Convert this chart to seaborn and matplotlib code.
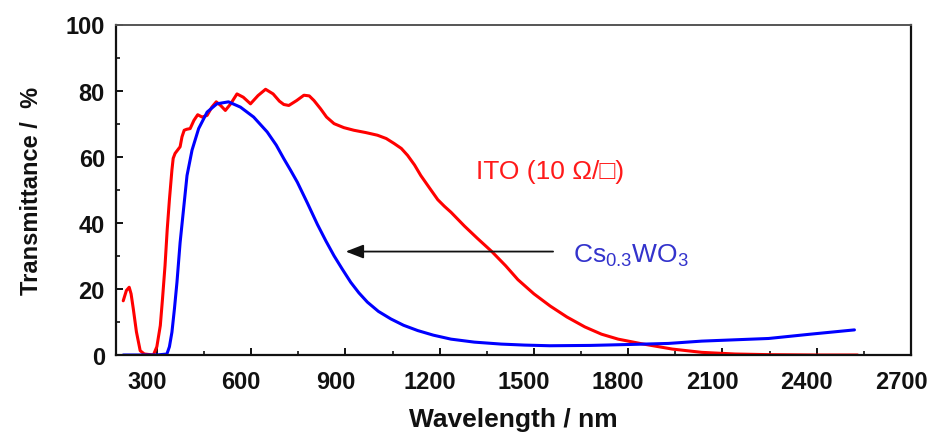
import numpy as np
import pandas as pd
import matplotlib
matplotlib.use("Agg")
import matplotlib.pyplot as plt
from matplotlib.transforms import ScaledTranslation
from matplotlib.ticker import MultipleLocator
import seaborn as sns

# ---- data ----
ito_wl = [193, 203, 212, 218, 225, 235, 247, 260, 289, 300, 311, 318, 326, 333, 340,
          348, 352, 358, 366, 374, 380, 387, 395, 406, 418, 430, 444, 460, 475, 489,
          503, 518, 535, 555, 575, 598, 622, 646, 670, 690, 704, 720, 745, 768, 785,
          800, 821, 840, 864, 895, 927, 965, 1002, 1030, 1055, 1078, 1098, 1120, 1140,
          1168, 1194, 1215, 1236, 1279, 1320, 1366, 1410, 1449, 1500, 1552, 1605, 1662,
          1715, 1768, 1843, 1940, 2034, 2140, 2250, 2400, 2530]
ito_t = [16.4, 19.5, 20.5, 18.5, 14.0, 7.0, 1.3, 0.3, 0.0, 2.5, 8.9, 17.0, 27.0, 38.0, 47.0,
         56.0, 59.5, 61.0, 62.0, 63.0, 66.0, 68.0, 68.3, 68.5, 71.0, 72.7, 72.0, 72.5, 75.0, 76.6,
         75.5, 74.0, 76.0, 79.0, 78.0, 76.0, 78.5, 80.4, 79.0, 76.8, 75.8, 75.5, 77.0, 78.6, 78.4,
         77.0, 74.5, 72.0, 70.0, 68.8, 68.0, 67.3, 66.5, 65.5, 64.0, 62.5, 60.4, 57.5, 54.3,
         50.5, 47.0, 45.0, 43.2, 39.0, 35.3, 31.3, 27.0, 22.8, 18.5, 14.8, 11.5, 8.5,
         6.3, 4.8, 3.4, 1.8, 0.8, 0.3, 0.1, 0.0, 0.0]

cwo_wl = [193, 250, 300, 332, 340, 348, 356, 364, 374, 387, 396, 412, 433, 460, 491,
          528, 566, 608, 651, 680, 704, 725, 747, 779, 811, 838, 864, 890, 917, 943,
          970, 1005, 1045, 1085, 1130, 1180, 1236, 1310, 1396, 1470, 1550, 1680, 1811,
          1928, 2034, 2140, 2247, 2380, 2520]
cwo_t = [0.0, 0.0, 0.0, 0.3, 2.5, 6.9, 14.0, 22.0, 34.0, 46.0, 54.3, 62.0, 68.5, 73.5, 76.0,
         76.6, 75.0, 72.0, 67.5, 63.5, 59.4, 56.0, 52.3, 46.0, 39.5, 34.5, 30.0, 26.0, 22.0, 18.8,
         16.0, 13.2, 10.9, 9.0, 7.4, 6.0, 4.8, 3.9, 3.3, 3.0, 2.8, 2.9, 3.2,
         3.5, 4.2, 4.6, 5.0, 6.3, 7.6]

x_ticks = [300, 600, 900, 1200, 1500, 1800, 2100, 2400, 2700]
y_ticks = [0, 20, 40, 60, 80, 100]

sns.set_theme(style="white")
plt.rcParams['font.family'] = ['Liberation Sans', 'DejaVu Sans']
plt.rcParams['mathtext.default'] = 'regular'

fig = plt.figure(figsize=(9.35, 4.35), dpi=100)
ax = fig.add_axes([116/935, 79/435, (911-116)/935, (409.5-79)/435])

df_ito = pd.DataFrame({"wl": ito_wl, "T": ito_t})
df_cwo = pd.DataFrame({"wl": cwo_wl, "T": cwo_t})
sns.lineplot(data=df_ito, x="wl", y="T", ax=ax, color="#ff0000", linewidth=2.2,
             estimator=None, sort=False)
sns.lineplot(data=df_cwo, x="wl", y="T", ax=ax, color="#0000ff", linewidth=2.2,
             estimator=None, sort=False)

ax.set_xlim(170, 2700)
ax.set_ylim(0, 100)
ax.set_xticks(x_ticks)
ax.set_yticks(y_ticks)
ax.xaxis.set_minor_locator(MultipleLocator(150))
ax.yaxis.set_minor_locator(MultipleLocator(10))
ax.tick_params(axis='both', which='major', direction='in', length=5, width=1.4,
               color='#111111', labelsize=17, bottom=True, left=True)
ax.tick_params(axis='both', which='minor', direction='in', length=3, width=1.2,
               color='#111111', bottom=True, left=True)
ax.tick_params(axis='x', which='major', pad=11)
ax.tick_params(axis='y', which='major', pad=8)
for lab in ax.get_xticklabels() + ax.get_yticklabels():
    lab.set_fontweight('bold')
    lab.set_color('#111111')
for lab in ax.get_xticklabels():
    lab.set_transform(lab.get_transform() + ScaledTranslation(-10/100, 0, fig.dpi_scale_trans))

for side in ['left', 'bottom', 'right']:
    ax.spines[side].set_linewidth(1.6)
    ax.spines[side].set_color('#111111')
ax.spines['top'].set_linewidth(1.4)
ax.spines['top'].set_color('#555555')

ax.set_xlabel("Wavelength / nm", fontsize=19, fontweight='bold', color='#111111', labelpad=10)
ax.set_ylabel("Transmittance /  %", fontsize=17, fontweight='bold', color='#111111', labelpad=16)

ax.text(1316, 53.6, "ITO (10 \u03a9/\u25a1)", color="#ff1a1a", fontsize=19,
        ha='left', va='baseline')
ax.text(1624, 28.2, r"$\mathregular{Cs_{0.3}WO_3}$", color="#3333cc", fontsize=19,
        ha='left', va='baseline')
ax.annotate("", xy=(901, 31.3), xytext=(1561, 31.3),
            arrowprops=dict(arrowstyle='-|>,head_length=0.9,head_width=0.35',
                            color='#111111', lw=1.3, shrinkA=0, shrinkB=0))

fig.savefig("out.png", dpi=100)
